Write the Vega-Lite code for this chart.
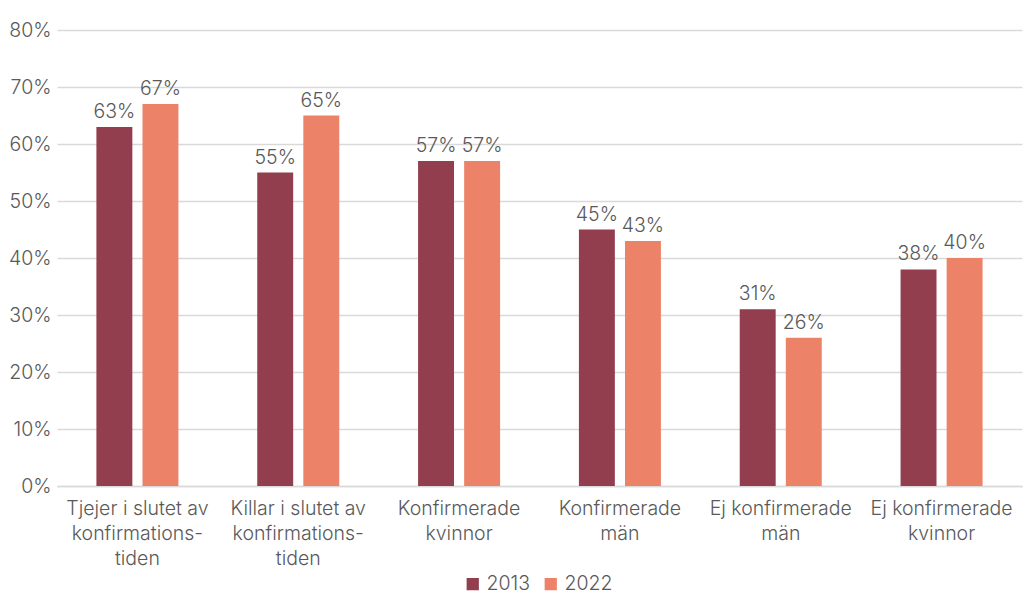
{
  "$schema": "https://vega.github.io/schema/vega-lite/v6.json",
  "width": 1024,
  "height": 594,
  "autosize": {"type": "fit", "contains": "padding"},
  "padding": {"left": 8, "right": 2, "top": 20, "bottom": 26},
  "background": "white",
  "config": {
    "font": "Inter",
    "view": {"stroke": null},
    "axis": {"labelColor": "#595959", "labelFontSize": 19.5, "labelFont": "Inter", "labelFontWeight": 300},
    "legend": {"labelColor": "#595959", "labelFontSize": 19.5, "labelFont": "Inter", "labelFontWeight": 300}
  },
  "data": {
    "values": [
      {"kategori": "Tjejer i slutet av|konfirmations-|tiden", "ar": "2013", "andel": 0.63},
      {"kategori": "Tjejer i slutet av|konfirmations-|tiden", "ar": "2022", "andel": 0.67},
      {"kategori": "Killar i slutet av|konfirmations-|tiden", "ar": "2013", "andel": 0.55},
      {"kategori": "Killar i slutet av|konfirmations-|tiden", "ar": "2022", "andel": 0.65},
      {"kategori": "Konfirmerade|kvinnor", "ar": "2013", "andel": 0.57},
      {"kategori": "Konfirmerade|kvinnor", "ar": "2022", "andel": 0.57},
      {"kategori": "Konfirmerade|män", "ar": "2013", "andel": 0.45},
      {"kategori": "Konfirmerade|män", "ar": "2022", "andel": 0.43},
      {"kategori": "Ej konfirmerade|män", "ar": "2013", "andel": 0.31},
      {"kategori": "Ej konfirmerade|män", "ar": "2022", "andel": 0.26},
      {"kategori": "Ej konfirmerade|kvinnor", "ar": "2013", "andel": 0.38},
      {"kategori": "Ej konfirmerade|kvinnor", "ar": "2022", "andel": 0.40}
    ]
  },
  "encoding": {
    "x": {
      "field": "kategori",
      "type": "nominal",
      "sort": null,
      "scale": {"paddingInner": 0.49, "paddingOuter": 0.245},
      "axis": {
        "title": null,
        "labelAngle": 0,
        "labelExpr": "split(datum.label, '|')",
        "labelLineHeight": 25,
        "labelPadding": 13,
        "ticks": false,
        "domain": true,
        "domainColor": "#d9d9d9",
        "domainWidth": 1.5,
        "labelLimit": 200
      }
    },
    "xOffset": {"field": "ar", "type": "nominal", "scale": {"paddingInner": 0.22}},
    "y": {
      "field": "andel",
      "type": "quantitative",
      "scale": {"domain": [0, 0.8]},
      "axis": {
        "title": null,
        "format": ".0%",
        "values": [0, 0.1, 0.2, 0.3, 0.4, 0.5, 0.6, 0.7, 0.8],
        "domain": false,
        "ticks": false,
        "grid": true,
        "gridColor": "#d9d9d9",
        "gridWidth": 1.5,
        "labelPadding": 6
      }
    }
  },
  "layer": [
    {
      "mark": {"type": "bar"},
      "encoding": {
        "color": {
          "field": "ar",
          "type": "nominal",
          "scale": {"domain": ["2013", "2022"], "range": ["#923e4e", "#ec8369"]},
          "legend": {
            "title": null,
            "orient": "none",
            "legendX": 406,
            "legendY": 544,
            "direction": "horizontal",
            "symbolType": "square",
            "symbolSize": 150,
            "symbolStrokeWidth": 0,
            "labelFontSize": 19.5,
            "columnPadding": 10
          }
        }
      }
    },
    {
      "mark": {"type": "text", "baseline": "bottom", "dy": -5, "fontSize": 19.5, "fontWeight": 300, "color": "#595959", "font": "Inter"},
      "encoding": {
        "text": {"field": "andel", "type": "quantitative", "format": ".0%"}
      }
    }
  ]
}
